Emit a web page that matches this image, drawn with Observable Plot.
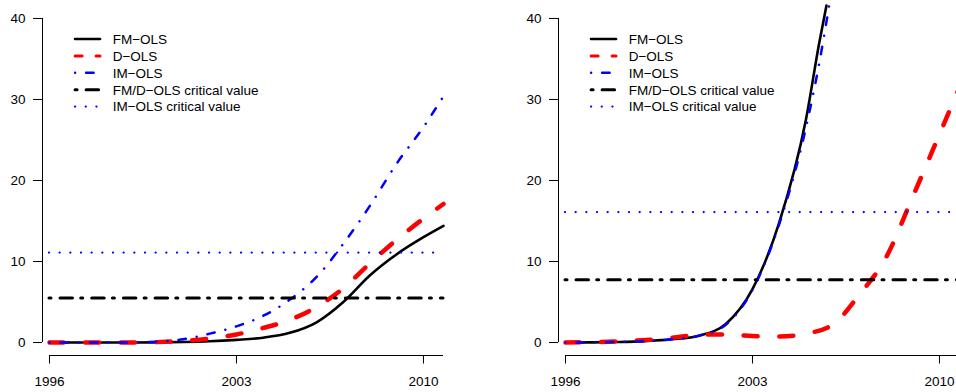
<!DOCTYPE html>
<html><head><meta charset="utf-8">
<script src="https://cdn.jsdelivr.net/npm/d3@7"></script>
<script src="https://cdn.jsdelivr.net/npm/@observablehq/plot@0.6"></script>
<style>
html,body{margin:0;padding:0;background:#fff;}
#fig{position:relative;width:956px;height:392px;overflow:hidden;background:#fff;}
.panel{position:absolute;top:0;width:516px;height:392px;}
.panel svg{position:absolute;left:0;top:0;}
</style></head><body><div id="fig"></div>
<script>
// ---- data ----
const xTicks = [1996, 2003, 2010];
const yTicks = [0, 10, 20, 30, 40];
const legendLabels = ["FM\u2212OLS", "D\u2212OLS", "IM\u2212OLS", "FM/D\u2212OLS critical value", "IM\u2212OLS critical value"];

// left panel
const yearsL = [1996,1997,1998,1999,2000,2001,2002,2003,2004,2005,2006,2007,2008,2009,2010,2010.75];
const fmLeft = [0,0,0,0,0.02,0.06,0.15,0.33,0.6,1.2,2.5,5.0,8.3,10.9,13.0,14.4];
const dLeft  = [0,0,0,0,0.05,0.2,0.5,1.0,1.8,2.8,4.4,6.7,9.8,12.7,15.3,17.1];
const imLeft = [0,0,0,0.02,0.1,0.4,1.1,2.0,3.3,5.3,8.1,12.2,16.9,22.1,26.6,30.4];
const critFmdLeft = 5.5;
const critImLeft = 11.1;

// right panel
const yearsFmR = [1996,1997,1998,1999,2000,2001,2002,2003,2004,2005,2005.5,2005.77];
const fmRight  = [0,0.02,0.07,0.18,0.4,0.85,2.3,6.6,14.8,27.5,37,41.6];
const yearsImR = [1996,1997,1998,1999,2000,2001,2002,2003,2004,2005,2005.5,2005.87];
const imRight  = [0,0.02,0.07,0.18,0.4,0.85,2.2,6.5,14.6,26.5,34.5,41.6];
const yearsDR  = [1996,1997,1998,1999,2000,2001,2002,2003,2004,2005,2006,2007,2008,2009,2010,2010.75];
const dRight   = [0,0.05,0.15,0.3,0.6,0.95,1.0,0.8,0.75,1.1,2.2,5.9,10.5,18.0,25.7,31.5];
const critFmdRight = 7.75;
const critImRight = 16.1;

// ---- styles ----
const FONT = "'Liberation Sans', Arial, Helvetica, sans-serif";
const FS = 13.5;
const sty = {
  fm:   {stroke:"#000000", strokeWidth:2.6, strokeDasharray:null},
  d:    {stroke:"#FF0000", strokeWidth:4.5, strokeDasharray:"14,21.7"},
  im:   {stroke:"#0000FF", strokeWidth:2.5, strokeDasharray:"0.01,11,7.5,11"},
  cfmd: {stroke:"#000000", strokeWidth:3,   strokeDasharray:"2,9,12.5,8.2"},
  cim:  {stroke:"#0000FF", strokeWidth:2.3, strokeDasharray:"0.01,10.66"}
};
const legendStyles = [
  {stroke:"#000000", w:2.7, dash:null},
  {stroke:"#FF0000", w:3,   dash:"7,14"},
  {stroke:"#0000FF", w:2.5, dash:"0.01,11,7.5,11"},
  {stroke:"#000000", w:3,   dash:"2,9,12.5,8.2"},
  {stroke:"#0000FF", w:2.3, dash:"0.01,10.66"}
];

const toRows = (xs, ys) => xs.map((x, i) => ({year: x, v: ys[i]}));

function lineMark(rows, s) {
  const o = {x:"year", y:"v", stroke:s.stroke, strokeWidth:s.strokeWidth, curve:"monotone-x", strokeLinecap:"round", strokeLinejoin:"round"};
  if (s.strokeDasharray) o.strokeDasharray = s.strokeDasharray;
  return Plot.line(rows, o);
}

function makePanel(leftPx, fm, d, im, cfmd, cim) {
  const div = document.createElement("div");
  div.className = "panel";
  div.style.left = leftPx + "px";
  const chart = Plot.plot({
    width: 516, height: 392,
    marginLeft: 49, marginRight: 73, marginTop: 5, marginBottom: 37,
    style: {fontFamily: FONT, fontSize: FS + "px", background: "white", color: "black", overflow: "visible"},
    x: {domain: [1996, 2010.75]},
    y: {domain: [-1.6, 41.6]},
    marks: [
      lineMark(fm, sty.fm),
      lineMark(d, sty.d),
      lineMark(im, sty.im),
      Plot.ruleY([cfmd], {stroke: sty.cfmd.stroke, strokeWidth: sty.cfmd.strokeWidth, strokeDasharray: sty.cfmd.strokeDasharray, strokeLinecap: "round"}),
      Plot.ruleY([cim], {stroke: sty.cim.stroke, strokeWidth: sty.cim.strokeWidth, strokeDasharray: sty.cim.strokeDasharray, strokeLinecap: "round"}),
      // y axis (offset to the left of the plotting region)
      Plot.ruleX([1996], {y1: yTicks[0], y2: yTicks[yTicks.length - 1], dx: -7, stroke: "#000", strokeWidth: 1}),
      Plot.axisY({ticks: yTicks, tickSize: 9, tickPadding: 8, dx: -7, fontSize: FS, label: null, stroke: "#000", fill: "#000"}),
      // x axis
      Plot.ruleY([-1.6], {stroke: "#000", strokeWidth: 1}),
      Plot.axisX({ticks: xTicks, tickFormat: d => String(d), tickSize: 8.5, tickPadding: 12, fontSize: FS, label: null, stroke: "#000", fill: "#000"})
    ]
  });
  div.appendChild(chart);

  // legend
  const lg = d3.create("svg").attr("width", 516).attr("height", 130)
    .style("position", "absolute").style("left", "0px").style("top", "0px");
  legendLabels.forEach((lab, i) => {
    const y = 39 + i * 16.9;
    const s = legendStyles[i];
    const ln = lg.append("line").attr("x1", 75.1).attr("x2", 100).attr("y1", y).attr("y2", y)
      .attr("stroke", s.stroke).attr("stroke-width", s.w).attr("stroke-linecap", "round");
    if (s.dash) ln.attr("stroke-dasharray", s.dash);
    lg.append("text").attr("x", 112.7).attr("y", y).attr("dy", "0.36em")
      .attr("font-family", FONT).attr("font-size", FS).attr("fill", "#000").text(lab);
  });
  div.appendChild(lg.node());
  return div;
}

const fig = document.getElementById("fig");
fig.appendChild(makePanel(0, toRows(yearsL, fmLeft), toRows(yearsL, dLeft), toRows(yearsL, imLeft), critFmdLeft, critImLeft));
fig.appendChild(makePanel(516, toRows(yearsFmR, fmRight), toRows(yearsDR, dRight), toRows(yearsImR, imRight), critFmdRight, critImRight));
</script>
</body></html>
